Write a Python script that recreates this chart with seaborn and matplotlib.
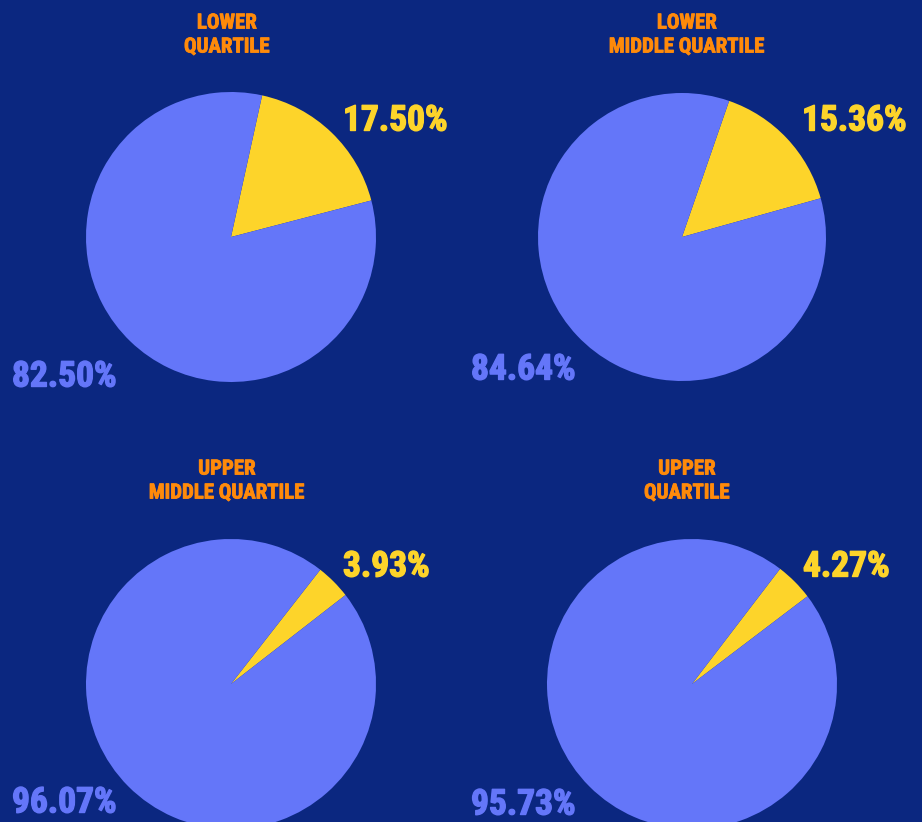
import matplotlib
matplotlib.use("Agg")
import matplotlib.pyplot as plt
import matplotlib.patheffects as pe
import seaborn as sns
from matplotlib import font_manager

titles = ["LOWER\nQUARTILE", "LOWER\nMIDDLE QUARTILE", "UPPER\nMIDDLE QUARTILE", "UPPER\nQUARTILE"]
female_pct = [17.50, 15.36, 3.93, 4.27]
male_pct = [82.50, 84.64, 96.07, 95.73]

BG = "#0B2780"
BLUE = "#6476F9"
YELLOW = "#FDD42A"
ORANGE = "#FF8A0A"

sns.set_theme(style="white")
names = {f.name for f in font_manager.fontManager.ttflist}
fam = [f for f in ["Roboto Condensed", "Liberation Sans Narrow", "Roboto", "DejaVu Sans"] if f in names]
plt.rcParams["font.family"] = fam

W, H = 922, 822
fig = plt.figure(figsize=(W / 100, H / 100), dpi=100, facecolor=BG)

pies = [(231, 237, 145), (682, 237, 144), (231, 684, 145), (692, 684, 145)]
starts = [77.6, 70.9, 52.0, 52.6]
title_pos = [(227, 35), (687, 35), (227, 481), (687, 481)]
ylab = [(343, 121), (802, 121), (343, 567), (803, 567)]
blab = [(12, 377), (471, 370), (12, 803), (471, 805)]

def fx(x):
    return x / W

def fy(y):
    return 1 - y / H

def heavy(c, w):
    return [pe.withStroke(linewidth=w, foreground=c)]

for i in range(4):
    cx, cy, r = pies[i]
    ax = fig.add_axes([fx(cx - r), fy(cy + r), 2 * r / W, 2 * r / H])
    ax.pie([female_pct[i], male_pct[i]], colors=[YELLOW, BLUE], startangle=starts[i],
           counterclock=False, radius=1, wedgeprops=dict(linewidth=0))
    ax.set_xlim(-1, 1)
    ax.set_ylim(-1, 1)
    ax.set_aspect("equal")
    ax.axis("off")
    tx, ty = title_pos[i]
    fig.text(fx(tx), fy(ty), titles[i], color=ORANGE, fontsize=15, fontweight="bold",
             ha="center", va="center", linespacing=1.33, path_effects=heavy(ORANGE, 0.6))
    x, y = ylab[i]
    fig.text(fx(x), fy(y), f"{female_pct[i]:.2f}%", color=YELLOW, fontsize=25.5,
             fontweight="bold", ha="left", va="center", path_effects=heavy(YELLOW, 1.0))
    x, y = blab[i]
    fig.text(fx(x), fy(y), f"{male_pct[i]:.2f}%", color=BLUE, fontsize=25.5,
             fontweight="bold", ha="left", va="center", path_effects=heavy(BLUE, 1.0))

fig.savefig("out.png", dpi=100, facecolor=BG)
